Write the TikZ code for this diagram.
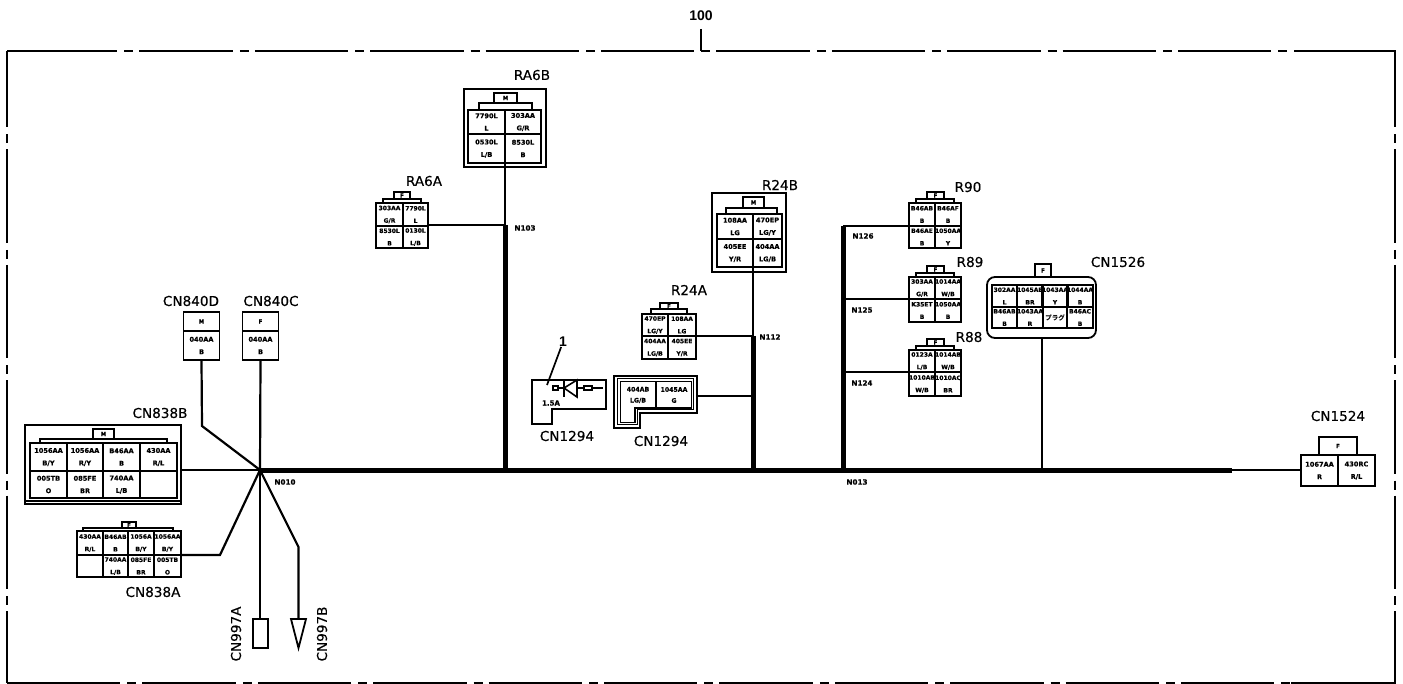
\documentclass[tikz,border=0pt]{standalone}
\usepackage{fontspec}
\setmainfont{Liberation Sans}
\newfontfamily\cellfont[BoldFeatures={FakeBold=0.5}]{DejaVu Sans}
\newfontfamily\cadfont[FakeBold=0.3]{DejaVu Sans}
\newfontfamily\cjkfont{Noto Sans CJK JP}
\usetikzlibrary{positioning}
\tikzset{
  wire/.style={line width=2.2pt},
  thinwire/.style={line width=1.3pt},
  trunk/.style={line width=5pt},
  boxline/.style={line width=1.8pt},
  cellbig/.style={draw, line width=1.7pt, inner sep=0pt, align=center, font=\cellfont\bfseries\fontsize{6.6}{12.5}\selectfont},
  cellsmall/.style={draw, line width=1.7pt, inner sep=0pt, align=center, font=\cellfont\bfseries\fontsize{6}{12.5}\selectfont},
  tabbox/.style={draw, line width=1.7pt, inner sep=0pt, font=\cellfont\bfseries\fontsize{5.5}{6}\selectfont},
  conname/.style={inner sep=0pt, font=\cadfont\fontsize{13.6}{14}\selectfont},
  splice/.style={inner sep=0pt, font=\cellfont\bfseries\fontsize{7.2}{9}\selectfont},
  frameline/.style={line width=1.7pt, dash pattern=on 93.4pt off 7pt on 9pt off 6pt},
}
\begin{document}
\begin{tikzpicture}[x=1pt, y=-1pt]
\useasboundingbox (0,0) rectangle (1403,684);
\fill[white] (0,0) rectangle (1403,684);
% frame
\draw[frameline] (24,51) -- (1293,51);
\draw[frameline] (27,683) -- (1296,683);
\draw[frameline, dash phase=17pt] (7,51) -- (7,683);
\draw[frameline, dash phase=17pt] (1395,51) -- (1395,683);
\draw[line width=1.7pt] (7,51) -- (24,51);
\draw[line width=1.7pt] (7,683) -- (27,683);
\draw[line width=1.7pt] (1294,51) -- (1395.8,51);
\draw[line width=1.7pt] (1291,683) -- (1395.8,683);
\node[font=\bfseries\fontsize{14}{15}\selectfont, inner sep=0pt] (frametag) at (701,16) {100};
\coordinate (frametop) at (701,51);
\draw[line width=1.7pt] (701,29) -- (frametop);
% splice points
\coordinate (n010) at (260,470);
\coordinate (n103) at (505,470);
\coordinate (n112) at (753,470);
\coordinate (n013) at (843,470);
\coordinate (n1526) at (1042,470);
\coordinate (busend) at (1232,470);
\coordinate (n103top) at (505,225);
\coordinate (n112top) at (753,336);
\coordinate (n126top) at (843,226);
\coordinate (n125) at (843,299);
\coordinate (n124) at (843,372);
\coordinate (n112fuse) at (753,396);
% cells
\foreach \nm/\x/\y/\w/\h/\ta/\tb in {
  b1/48.5/457/37/28/1056AA/{B/Y}, b2/85/457/36/28/1056AA/{R/Y}, b3/121.5/457/37/28/B46AA/B, b4/158.5/457/37/28/430AA/{R/L},
  b5/48.5/484.5/37/27/005TB/O, b6/85/484.5/36/27/085FE/BR, b7/121.5/484.5/37/27/740AA/{L/B}, b8/158.5/484.5/37/27/{}/{},
  rb1/486.5/122/37/24/7790L/L, rb2/523/122/36/24/303AA/{G/R}, rb3/486.5/148.5/37/29/0530L/{L/B}, rb4/523/148.5/36/29/8530L/B,
  tb1/735/226.5/36/25/108AA/LG, tb2/767.5/226.5/29/25/470EP/{LG/Y}, tb3/735/253/36/28/405EE/{Y/R}, tb4/767.5/253/29/28/404AA/{LG/B},
  p1/1319.5/470.5/37/31/1067AA/R, p2/1356.5/470.5/37/31/430RC/{R/L}%
} {
  \node[cellbig, minimum width=\w pt, minimum height=\h pt] (\nm) at (\x,\y) {\ta\\\tb};
}
\foreach \nm/\x/\y/\w/\h/\ta/\tb in {
  a1/90/543/26/24/430AA/{R/L}, a2/115.5/543/25/24/B46AB/B, a3/141/543/26/24/1056A/{B/Y}, a4/167.5/543/27/24/1056AA/{B/Y},
  a5/90/566/26/22/{}/{}, a6/115.5/566/25/22/740AA/{L/B}, a7/141/566/26/22/085FE/BR, a8/167.5/566/27/22/005TB/O,
  ra1/389.5/214.5/27/23/303AA/{G/R}, ra2/415.5/214.5/25/23/7790L/L, ra3/389.5/237/27/22/8530L/B, ra4/415.5/237/25/22/0130L/{L/B},
  ta1/655/325/26/22/470EP/{LG/Y}, ta2/682/325/28/22/108AA/LG, ta3/655/347.5/26/23/404AA/{LG/B}, ta4/682/347.5/28/23/405EE/{Y/R},
  f1/922/214.5/26/23/B46AB/B, f2/948/214.5/26/23/B46AF/B, f3/922/237/26/22/B46AE/B, f4/948/237/26/22/1050AA/Y,
  e1/922/288/26/22/303AA/{G/R}, e2/948/288/26/22/1014AA/{W/B}, e3/922/310.5/26/23/K35ET/B, e4/948/310.5/26/23/1050AA/B,
  d1/922/361/26/22/0123A/{L/B}, d2/948/361/26/22/1014AB/{W/B}, d3/922/384/26/24/1010AB/{W/B}, d4/948/384/26/24/1010AC/BR,
  c1/1004.5/296/25/22/302AA/L, c2/1030/296/26/22/1045AB/BR, c3/1055/296/24/22/1043AA/Y, c4/1080/296/26/22/1044AA/B,
  c5/1004.5/317.5/25/21/B46AB/B, c6/1030/317.5/26/21/1043AA/R, c7/1055/317.5/24/21/{}/{}, c8/1080/317.5/26/21/B46AC/B%
} {
  \node[cellsmall, minimum width=\w pt, minimum height=\h pt] (\nm) at (\x,\y) {\ta\\\tb};
}
\node[inner sep=0pt, font=\cjkfont\bfseries\fontsize{6.5}{7}\selectfont] (plugtext) at (c7) {プラグ};
\node[cellbig, minimum width=36pt, minimum height=29pt] (d840) at (201.5,345.5) {040AA\\B};
\node[cellbig, minimum width=36pt, minimum height=29pt] (c840) at (260.5,345.5) {040AA\\B};
\node[tabbox, minimum width=36pt, minimum height=19pt] (d840tab) at (201.5,321.5) {M};
\node[tabbox, minimum width=36pt, minimum height=19pt] (c840tab) at (260.5,321.5) {F};
% tabs
\foreach \nm/\x/\y/\w/\h/\ta in {
  btab/103.5/434/21/10/M, atab/129/525/14/6/F, rbtab/505.5/98/23/10/M, ratab/402/195.5/16/7/F,
  tbtab/753.5/202.5/21/11/M, tatab/669/306/18/6/F, ftab/935.5/195.5/17/7/F, etab/935.5/269.5/17/7/F,
  dtab/935.5/342.5/17/7/F, ctab/1043/270.5/16/13/F, ptab/1338/446/38/18/F%
} {
  \node[tabbox, minimum width=\w pt, minimum height=\h pt] (\nm) at (\x,\y) {\ta};
}
% brackets over the cells
\foreach \xa/\xb/\ya/\yb in {
  40/167/439/443, 83/173/528/531, 479/532/103/110, 383/421/199/203, 726/777/208/214,
  651/687/309/314, 916/954/199/203, 916/954/273/277, 916/954/346/350%
} {
  \draw[boxline] (\xa,\yb) -- (\xa,\ya) -- (\xb,\ya) -- (\xb,\yb);
}
% outer shells
\draw[boxline] (25,425) rectangle (181,504);
\draw[line width=1.2pt] (25,501) -- (181,501);
\draw[boxline] (464,89) rectangle (546,167);
\draw[boxline] (712,193) rectangle (786,272);
\draw[boxline, rounded corners=8pt] (987,277) rectangle (1096,338);
% connector names
\node[conname] (cn840d) at (191,301) {CN840D};
\node[conname] (cn840c) at (271,301) {CN840C};
\node[conname] (cn838b) at (160,413) {CN838B};
\node[conname] (cn838a) at (153,592) {CN838A};
\node[conname, rotate=90] (cn997a) at (236,634) {CN997A};
\node[conname, rotate=90] (cn997b) at (322,634) {CN997B};
\node[conname] (ra6b) at (532,75) {RA6B};
\node[conname] (ra6a) at (424,181) {RA6A};
\node[conname] (r24b) at (780,185) {R24B};
\node[conname] (r24a) at (689,290) {R24A};
\node[conname] (r90) at (968,187) {R90};
\node[conname] (r89) at (970,262) {R89};
\node[conname] (r88) at (969,337) {R88};
\node[conname] (cn1526) at (1118,262) {CN1526};
\node[conname] (cn1524) at (1338,416) {CN1524};
\node[conname] (cnfuse) at (567,436) {CN1294};
\node[conname] (cnfusb) at (661,441) {CN1294};
% splice names
\node[splice] (t010) at (285,482) {N010};
\node[splice] (t013) at (857,482) {N013};
\node[splice] (t103) at (525,228) {N103};
\node[splice] (t112) at (770,337) {N112};
\node[splice] (t126) at (863,236) {N126};
\node[splice] (t125) at (862,310) {N125};
\node[splice] (t124) at (862,383) {N124};
% fuse holder on the left
\draw[boxline] (532,380) -- (606,380) -- (606,409) -- (552,409) -- (552,424) -- (532,424) -- cycle;
\draw[line width=1.3pt] (553,386) rectangle (558,390);
\draw[line width=1.3pt] (558,388) -- (564,388);
\draw[line width=1.6pt] (577,380) -- (577,397) -- (564,388) -- cycle;
\draw[line width=1.6pt] (564,380) -- (564,397);
\draw[line width=1.3pt] (577,388) -- (584,388);
\draw[line width=1.3pt] (584,386) rectangle (592,390);
\draw[line width=2.2pt] (593,388) -- (603,388);
\node[inner sep=0pt, font=\cellfont\bfseries\fontsize{7}{8}\selectfont] (amps) at (551,403) {1.5A};
\node[inner sep=0pt, font=\bfseries\fontsize{14}{15}\selectfont] (lead) at (563,342) {1};
\coordinate (leadend) at (547,385);
\draw[line width=1.7pt] (lead) -- (leadend);
% fuse holder on the right
\draw[boxline] (614,376) -- (697,376) -- (697,413) -- (640,413) -- (640,428) -- (614,428) -- cycle;
\draw[line width=1pt] (617.5,379) -- (693.5,379) -- (693.5,410) -- (637,410) -- (637,425) -- (617.5,425) -- cycle;
\draw[line width=1.4pt] (620.5,381.5) -- (691.5,381.5) -- (691.5,408) -- (635,408) -- (635,422.5) -- (620.5,422.5) -- cycle;
\draw[line width=1.4pt] (656,381.5) -- (656,408);
\node[inner sep=0pt, align=center, font=\cellfont\bfseries\fontsize{6.2}{11}\selectfont] (fa) at (638,395) {404AB\\LG/B};
\node[inner sep=0pt, align=center, font=\cellfont\bfseries\fontsize{6.2}{11}\selectfont] (fb) at (674,395) {1045AA\\G};
\coordinate (fusewire) at (697,396);
% plugs under the junction
\node[draw, boxline, minimum width=15pt, minimum height=29pt, inner sep=0pt] (p997a) at (260.5,633.5) {};
\coordinate (p997btop) at (298.5,619);
\draw[boxline] (291,619) -- (306,619) -- (298.5,648) -- cycle;
% wires
\draw[trunk] (n010) -- (busend);
\draw[trunk] (n103top) -- (n103);
\draw[trunk] (n112top) -- (n112);
\draw[trunk] (n126top) -- (n013);
\draw[wire] (c840.south) -- (n010);
\draw[wire] (d840.south) -- (202,426) -- (n010);
\draw[wire] (25,470) ++(156,0) -- (n010);
\draw[wire] (a8.east |- 0,555) -- (220,555) -- (n010);
\draw[wire] (n010) -- (p997a.north -| n010);
\draw[wire] (n010) -- (298.5,547) -- (p997btop);
\draw[wire] (rb4.south -| n103top) -- (n103top);
\draw[wire] (ra2.east |- n103top) -- (n103top);
\draw[wire] (tb3.south -| n112top) -- (n112top);
\draw[wire] (ta2.east |- n112top) -- (n112top);
\draw[thinwire] (fusewire) -- (n112fuse);
\draw[wire] (f1.west |- n126top) -- (n126top);
\draw[thinwire] (e1.west |- n125) -- (n125);
\draw[thinwire] (d1.west |- n124) -- (n124);
\draw[wire] (n1526 |- 0,338) -- (n1526);
\draw[wire] (busend) -- (p1.west |- busend);
\end{tikzpicture}
\end{document}
